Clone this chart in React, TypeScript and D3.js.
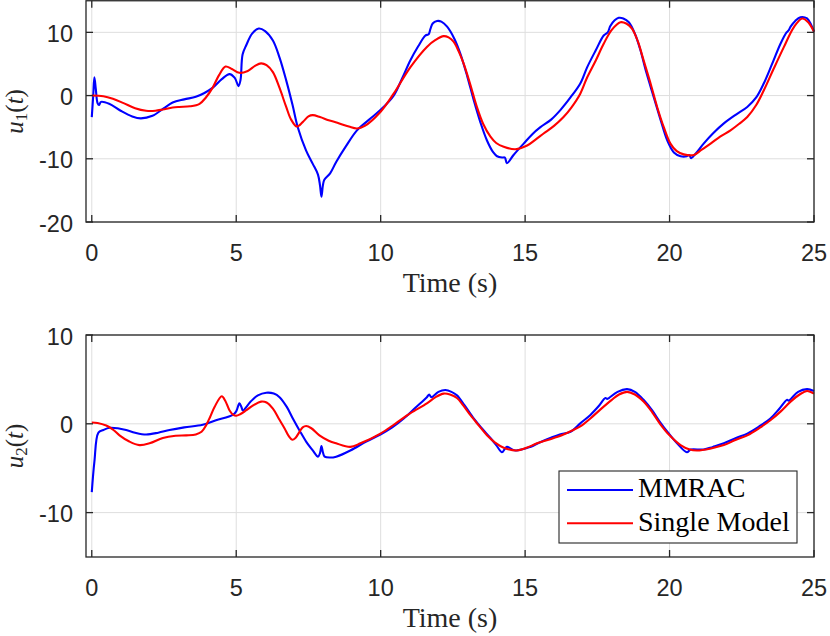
import React, { useRef, useEffect } from 'react';
import * as d3 from 'd3';

type Pt = [number, number];

// time axis ticks
const xTicks = [0, 5, 10, 15, 20, 25];
const u1Ticks = [-20, -10, 0, 10];
const u2Ticks = [-10, 0, 10];

// u1(t), MMRAC
const u1Mmrac: Pt[] = [
    [0, -3.4], [0.05, 0], [0.09, 2.9], [0.14, 1.0], [0.2, -1.2], [0.25, -1.5], [0.32, -1.0], [0.6, -1.3],
    [1.0, -2.4], [1.4, -3.3], [1.7, -3.6], [2.1, -3.2], [2.5, -2.0], [2.8, -1.1], [3.2, -0.6], [3.6, -0.2],
    [3.9, 0.4], [4.2, 1.3], [4.5, 2.6], [4.77, 3.4], [4.95, 2.8], [5.08, 1.5], [5.15, 2.5], [5.22, 6.5],
    [5.35, 8.0], [5.55, 9.8], [5.78, 10.6], [6.0, 10.2], [6.27, 8.7], [6.5, 6.0], [6.73, 2.4], [6.95, -1.5],
    [7.13, -5.0], [7.42, -8.7], [7.65, -10.8], [7.83, -12.5], [7.9, -14.2], [7.95, -16.0], [8.0, -14.2],
    [8.05, -13.3], [8.25, -12.3], [8.46, -10.5], [8.8, -8.0], [9.18, -5.5], [9.6, -3.8], [9.99, -2.3],
    [10.45, 0.0], [10.75, 2.8], [11.03, 5.6], [11.3, 7.8], [11.55, 9.5], [11.66, 9.7], [11.72, 10.5],
    [11.8, 11.4], [11.95, 11.8], [12.1, 11.7], [12.3, 10.9], [12.55, 9.0], [12.76, 6.6], [13.0, 3.0],
    [13.22, -0.7], [13.45, -4.2], [13.68, -7.1], [13.9, -9.0], [14.03, -9.6], [14.2, -9.8], [14.3, -9.8],
    [14.37, -10.7], [14.6, -9.4], [14.95, -7.6], [15.25, -6.1], [15.53, -5.0], [15.9, -3.8], [16.22, -2.3],
    [16.57, -0.3], [16.91, 1.9], [17.15, 4.5], [17.45, 7.2], [17.72, 9.5], [17.86, 10.0], [17.95, 11.0],
    [18.1, 11.9], [18.24, 12.3], [18.4, 12.2], [18.59, 11.6], [18.8, 9.8], [18.99, 7.2], [19.2, 3.6],
    [19.45, -0.2], [19.7, -4.0], [19.92, -7.1], [20.15, -9.0], [20.38, -9.6], [20.6, -9.6], [20.68, -9.4],
    [20.75, -9.9], [20.9, -9.2], [21.18, -7.6], [21.5, -6.0], [21.88, -4.4], [22.3, -3.0], [22.69, -1.8],
    [23.0, -0.3], [23.26, 1.9], [23.55, 5.0], [23.84, 8.2], [24.05, 10.0], [24.12, 10.3], [24.19, 10.9],
    [24.35, 11.8], [24.53, 12.4], [24.76, 12.2], [24.9, 11.2], [25.0, 10.1],
];

// u1(t), single model
const u1Single: Pt[] = [
    [0, 0], [0.4, -0.1], [0.73, -0.5], [1.1, -1.2], [1.5, -2.0], [1.88, -2.4], [2.2, -2.4], [2.46, -2.2],
    [2.8, -1.9], [3.03, -1.8], [3.4, -1.7], [3.73, -1.3], [3.95, -0.3], [4.19, 1.3], [4.4, 3.2], [4.63, 4.6],
    [4.85, 4.2], [5.11, 3.6], [5.4, 3.9], [5.65, 4.7], [5.86, 5.1], [6.05, 4.8], [6.27, 3.7], [6.5, 1.2],
    [6.73, -1.8], [6.9, -3.8], [7.1, -4.9], [7.3, -4.2], [7.5, -3.3], [7.65, -3.1], [7.9, -3.4], [8.2, -3.9],
    [8.5, -4.3], [8.9, -4.9], [9.18, -5.2], [9.45, -4.8], [9.99, -2.6], [10.45, 0.3], [11.03, 4.5],
    [11.6, 7.7], [11.9, 8.8], [12.18, 9.4], [12.35, 9.2], [12.53, 8.5], [12.7, 7.0], [12.87, 5.1],
    [13.1, 1.8], [13.33, -1.8], [13.55, -4.5], [13.8, -6.5], [14.0, -7.5], [14.26, -8.1], [14.66, -8.5],
    [15.07, -7.9], [15.35, -7.0], [15.64, -6.0], [16.0, -4.8], [16.33, -3.4], [16.6, -1.9], [16.91, 0.3],
    [17.15, 2.9], [17.45, 5.6], [17.72, 8.2], [18.0, 10.4], [18.3, 11.6], [18.5, 11.4], [18.7, 10.6],
    [18.9, 8.6], [19.1, 5.6], [19.35, 1.8], [19.57, -1.8], [19.8, -5.0], [20.03, -7.6], [20.25, -8.8],
    [20.49, -9.3], [20.84, -9.4], [21.1, -8.6], [21.42, -7.6], [21.75, -6.5], [22.11, -5.5], [22.4, -4.5],
    [22.69, -3.4], [23.0, -1.5], [23.26, 0.8], [23.6, 4.2], [23.96, 7.7], [24.3, 10.8], [24.59, 12.2],
    [24.8, 11.6], [25, 10.1],
];

// u2(t), MMRAC
const u2Mmrac: Pt[] = [
    [0, -7.7], [0.09, -4.3], [0.23, -1.0], [0.4, -0.7], [0.61, -0.45], [0.9, -0.5], [1.19, -0.7], [1.5, -1.0],
    [1.88, -1.2], [2.3, -1.0], [2.69, -0.7], [3.2, -0.4], [3.84, -0.1], [4.3, 0.4], [4.88, 1.0], [5.0, 1.4],
    [5.11, 2.3], [5.18, 1.9], [5.23, 1.5], [5.5, 2.5], [5.75, 3.2], [6.04, 3.5], [6.3, 3.4], [6.5, 3.0],
    [6.75, 1.9], [6.96, 0.6], [7.2, -0.8], [7.42, -2.0], [7.65, -3.0], [7.83, -3.7], [7.9, -3.3], [7.95, -2.5],
    [8.0, -3.2], [8.06, -3.7], [8.25, -3.8], [8.46, -3.7], [8.95, -3.0], [9.5, -2.0], [9.99, -1.2],
    [10.4, -0.4], [10.8, 0.6], [11.2, 1.8], [11.6, 3.0], [11.68, 3.3], [11.75, 3.0], [12.0, 3.6],
    [12.24, 3.8], [12.45, 3.6], [12.64, 3.2], [12.9, 2.1], [13.22, 0.6], [13.5, -0.5], [13.8, -1.6],
    [14.0, -2.4], [14.2, -3.2], [14.3, -2.8], [14.37, -2.6], [14.66, -3.0], [15.18, -2.6], [15.5, -2.1],
    [15.87, -1.6], [16.2, -1.2], [16.57, -0.9], [16.91, 0.05], [17.26, 1.0], [17.55, 2.0], [17.78, 2.9],
    [17.84, 2.8], [17.9, 2.9], [18.2, 3.6], [18.53, 3.9], [18.8, 3.6], [19.1, 2.7], [19.4, 1.5],
    [19.67, 0.2], [19.95, -1.0], [20.26, -2.2], [20.6, -3.2], [20.73, -2.9], [21.18, -2.9], [21.5, -2.6],
    [21.88, -2.2], [22.3, -1.6], [22.69, -1.1], [23.1, -0.3], [23.49, 0.6], [23.8, 1.7], [24.07, 2.7],
    [24.12, 2.6], [24.2, 2.8], [24.45, 3.6], [24.76, 3.9], [25, 3.7],
];

// u2(t), single model
const u2Single: Pt[] = [
    [0, 0.15], [0.2, 0.1], [0.5, -0.2], [0.75, -0.7], [0.96, -1.3], [1.3, -2.0], [1.65, -2.4], [2.0, -2.2],
    [2.46, -1.6], [2.9, -1.35], [3.27, -1.3], [3.6, -1.2], [3.8, -0.9], [3.96, -0.15], [4.1, 0.8],
    [4.25, 1.9], [4.5, 3.1], [4.62, 2.6], [4.77, 1.5], [4.9, 1.0], [5.0, 0.9], [5.15, 1.1], [5.34, 1.5],
    [5.6, 2.1], [5.86, 2.5], [6.05, 2.4], [6.27, 1.7], [6.47, 0.6], [6.67, -0.5], [6.82, -1.4], [6.94, -1.8],
    [7.05, -1.6], [7.19, -0.9], [7.3, -0.4], [7.42, -0.25], [7.6, -0.5], [7.88, -1.3], [8.2, -1.9],
    [8.46, -2.2], [8.95, -2.6], [9.3, -2.2], [9.99, -1.1], [10.5, 0.0], [11.03, 1.2], [11.6, 2.3],
    [11.9, 3.0], [12.18, 3.4], [12.4, 3.3], [12.64, 2.9], [12.85, 2.1], [13.1, 1.0], [13.4, -0.2],
    [13.68, -1.3], [13.95, -2.1], [14.26, -2.7], [14.72, -3.0], [15.05, -2.7], [15.41, -2.2], [15.9, -1.7],
    [16.33, -1.2], [16.6, -0.8], [16.91, -0.3], [17.26, 0.6], [17.6, 1.6], [18.0, 2.7], [18.25, 3.3],
    [18.53, 3.6], [18.8, 3.3], [19.1, 2.5], [19.4, 1.3], [19.67, 0.0], [20.0, -1.3], [20.38, -2.4],
    [20.7, -2.9], [20.96, -3.0], [21.4, -2.8], [21.88, -2.4], [22.3, -1.8], [22.69, -1.3], [23.1, -0.5],
    [23.49, 0.4], [23.85, 1.4], [24.19, 2.5], [24.5, 3.3], [24.76, 3.7], [25, 3.4],
];

const legendLabels = ['MMRAC', 'Single Model'];
const seriesColors = ['#0000ff', '#ff0000'];

const W = 830;
const H = 636;
const AX = '#262626';
const TICK_FONT = '"Liberation Sans", Arial, Helvetica, sans-serif';
const SERIF = '"Liberation Serif", "DejaVu Serif", serif';

export default function App() {
    const svgRef = useRef<SVGSVGElement | null>(null);

    useEffect(() => {
        if (!svgRef.current) return;
        const svg = d3.select(svgRef.current);
        svg.selectAll('*').remove();

        const left = 86, right = 814;
        const x = d3.scaleLinear().domain([-0.2, 25]).range([left, right]);

        const panels = [
            { top: 0.75, bottom: 222, domain: [-20, 15], ticks: u1Ticks, sub: '1', series: [u1Mmrac, u1Single] },
            { top: 335, bottom: 557, domain: [-15, 10], ticks: u2Ticks, sub: '2', series: [u2Mmrac, u2Single] },
        ];

        panels.forEach((p, pi) => {
            const y = d3.scaleLinear().domain(p.domain).range([p.bottom, p.top]);
            const g = svg.append('g');

            // grid
            g.selectAll('line.gx').data(xTicks).join('line')
                .attr('x1', d => x(d)).attr('x2', d => x(d))
                .attr('y1', p.top).attr('y2', p.bottom)
                .attr('stroke', '#dedede').attr('stroke-width', 1);
            g.selectAll('line.gy').data(p.ticks).join('line')
                .attr('x1', left).attr('x2', right)
                .attr('y1', d => y(d)).attr('y2', d => y(d))
                .attr('stroke', '#dedede').attr('stroke-width', 1);

            // curves
            const line = d3.line<Pt>()
                .x(d => x(d[0]))
                .y(d => y(d[1]))
                .curve(d3.curveCatmullRom.alpha(0.5));
            p.series.forEach((s, si) => {
                g.append('path')
                    .attr('d', line(s))
                    .attr('fill', 'none')
                    .attr('stroke', seriesColors[si])
                    .attr('stroke-width', 2.1)
                    .attr('stroke-linejoin', 'round');
            });

            // box
            g.append('rect')
                .attr('x', left).attr('y', p.top)
                .attr('width', right - left).attr('height', p.bottom - p.top)
                .attr('fill', 'none').attr('stroke', AX).attr('stroke-width', 1.3);

            // ticks (inward, all sides)
            const tl = 7;
            xTicks.forEach(t => {
                g.append('line').attr('x1', x(t)).attr('x2', x(t)).attr('y1', p.bottom).attr('y2', p.bottom - tl)
                    .attr('stroke', AX).attr('stroke-width', 1.3);
                g.append('line').attr('x1', x(t)).attr('x2', x(t)).attr('y1', p.top).attr('y2', p.top + tl)
                    .attr('stroke', AX).attr('stroke-width', 1.3);
            });
            p.ticks.forEach(t => {
                g.append('line').attr('x1', left).attr('x2', left + tl).attr('y1', y(t)).attr('y2', y(t))
                    .attr('stroke', AX).attr('stroke-width', 1.3);
                g.append('line').attr('x1', right).attr('x2', right - tl).attr('y1', y(t)).attr('y2', y(t))
                    .attr('stroke', AX).attr('stroke-width', 1.3);
            });

            // tick labels
            g.selectAll('text.xt').data(xTicks).join('text')
                .attr('x', d => x(d)).attr('y', p.bottom + 39)
                .attr('text-anchor', 'middle')
                .style('font-family', TICK_FONT).style('font-size', '23.5px').attr('fill', AX)
                .text(d => String(d));
            g.selectAll('text.yt').data(p.ticks).join('text')
                .attr('x', left - 13).attr('y', d => y(d) + 9.5)
                .attr('text-anchor', 'end')
                .style('font-family', TICK_FONT).style('font-size', '23.5px').attr('fill', AX)
                .text(d => String(d));

            // x label
            g.append('text')
                .attr('x', (left + right) / 2).attr('y', p.bottom + 70)
                .attr('text-anchor', 'middle')
                .style('font-family', SERIF).style('font-size', '28px').attr('fill', AX)
                .text('Time (s)');

            // y label
            const cy = (p.top + p.bottom) / 2;
            const yl = g.append('text')
                .attr('transform', `translate(23,${cy}) rotate(-90)`)
                .attr('text-anchor', 'middle')
                .style('font-family', SERIF).style('font-size', '25px').attr('fill', AX);
            yl.append('tspan').style('font-style', 'italic').text('u');
            yl.append('tspan').attr('dy', 4).style('font-size', '17px').text(p.sub);
            yl.append('tspan').attr('dy', -4).text('(');
            yl.append('tspan').style('font-style', 'italic').text('t');
            yl.append('tspan').text(')');

            // legend (bottom panel)
            if (pi === 1) {
                const lg = g.append('g');
                lg.append('rect')
                    .attr('x', 559).attr('y', 471).attr('width', 238).attr('height', 72)
                    .attr('fill', '#ffffff').attr('stroke', AX).attr('stroke-width', 1.1);
                legendLabels.forEach((lab, i) => {
                    const ly = 490 + i * 33.3;
                    lg.append('line').attr('x1', 567).attr('x2', 633).attr('y1', ly).attr('y2', ly)
                        .attr('stroke', seriesColors[i]).attr('stroke-width', 2.1);
                    lg.append('text').attr('x', 638).attr('y', ly + 7.3)
                        .style('font-family', SERIF).style('font-size', '28px').attr('fill', '#000')
                        .text(lab);
                });
            }
        });
    }, []);

    return (
        <svg
            ref={svgRef}
            width={W}
            height={H}
            style={{ position: 'absolute', left: 0, top: 0, background: '#ffffff' }}
        />
    );
}
